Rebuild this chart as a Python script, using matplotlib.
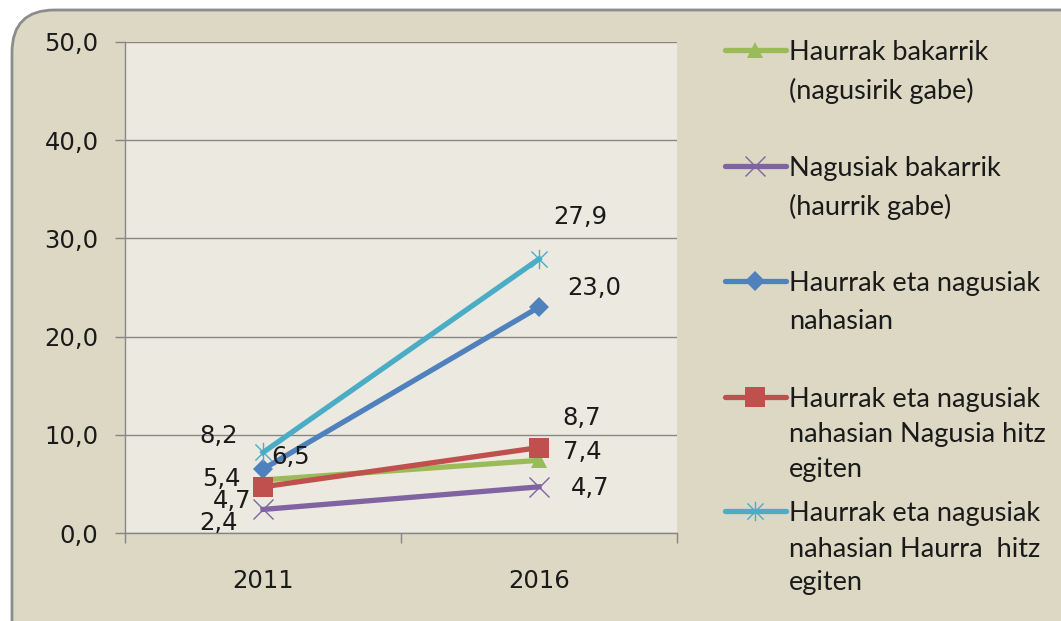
import matplotlib
matplotlib.use("Agg")
import matplotlib.pyplot as plt
from matplotlib.patches import FancyBboxPatch
from matplotlib.lines import Line2D
from matplotlib.path import Path

years = ["2011", "2016"]
series_names = [
    ["Haurrak bakarrik", "(nagusirik gabe)"],
    ["Nagusiak bakarrik", "(haurrik gabe)"],
    ["Haurrak eta nagusiak", "nahasian"],
    ["Haurrak eta nagusiak", "nahasian Nagusia hitz", "egiten"],
    ["Haurrak eta nagusiak", "nahasian Haurra  hitz", "egiten"],
]
haurrak_bakarrik = [5.4, 7.4]
nagusiak_bakarrik = [2.4, 4.7]
nahasian = [6.5, 23.0]
nahasian_nagusia = [4.7, 8.7]
nahasian_haurra = [8.2, 27.9]
yticks = [0, 10, 20, 30, 40, 50]

star = Path([(-1, -1), (1, 1), (-1, 1), (1, -1), (0, -1.2), (0, 1.2)],
            [Path.MOVETO, Path.LINETO, Path.MOVETO, Path.LINETO, Path.MOVETO, Path.LINETO])

W, H = 1061, 621
fig = plt.figure(figsize=(W / 100, H / 100), dpi=100)
fig.patch.set_facecolor("white")
box = FancyBboxPatch((12 / W, -0.1), 1.1, (H - 10) / H + 0.1,
                     boxstyle="round,pad=0,rounding_size=0.04",
                     transform=fig.transFigure, facecolor="#DDD8C4",
                     edgecolor="#8C8C8C", linewidth=2, mutation_aspect=W / H, zorder=-10)
fig.add_artist(box)

ax = fig.add_axes([125 / W, (H - 533) / H, (677 - 125) / W, (533 - 42) / H], zorder=1)
ax.set_facecolor("#ECEAE0")
ax.set_xlim(-0.5, 1.5)
ax.set_ylim(0, 50)

styles = [
    (haurrak_bakarrik, "#9BBB59", dict(marker="^", markersize=12, markeredgewidth=0)),
    (nagusiak_bakarrik, "#8064A2", dict(marker="x", markersize=14, markeredgewidth=1.0)),
    (nahasian, "#4F81BD", dict(marker="D", markersize=10.5, markeredgewidth=0)),
    (nahasian_nagusia, "#C0504D", dict(marker="s", markersize=14, markeredgewidth=0)),
    (nahasian_haurra, "#4BACC6", dict(marker=star, markersize=14, markeredgewidth=1.0)),
]
x = [0, 1]
order = [0, 1, 4, 2, 3]
for i in order:
    vals, col, mk = styles[i]
    ax.plot(x, vals, color=col, lw=3.8, markerfacecolor=col, markeredgecolor=col,
            zorder=3 + i, clip_on=False, **mk)

# data labels (offsets in points)
lab_font = dict(fontsize=17.5, color="#1a1a1a", family="DejaVu Sans", ha="center", va="center")
offsets = [
    [(-30, 1), (31, 6)],
    [(-32, -10), (37, -1)],
    [(20, 9), (40, 14)],
    [(-22, -10), (31, 21)],
    [(-32, 12), (30, 30)],
]
for i, (vals, col, mk) in enumerate(styles):
    for j in range(2):
        ax.annotate(f"{vals[j]:.1f}".replace(".", ","), (x[j], vals[j]),
                    xytext=offsets[i][j], textcoords="offset points", zorder=20, **lab_font)

ax.set_yticks(yticks)
ax.set_yticklabels([f"{v:.1f}".replace(".", ",") for v in yticks])
ax.yaxis.grid(True, color="#868686", lw=1)
ax.set_axisbelow(True)
ax.set_xticks([-0.5, 0.5, 1.5])
ax.set_xticklabels([])
ax.set_xticks([0, 1], minor=True)
ax.set_xticklabels(years, minor=True)
ax.tick_params(axis="x", which="major", length=7, color="#868686", width=1)
ax.tick_params(axis="x", which="minor", length=0, pad=26, labelsize=17.5, labelcolor="#1a1a1a")
ax.tick_params(axis="y", length=7, color="#868686", width=1, pad=12, labelsize=17.5,
               labelcolor="#1a1a1a")
for lab in ax.get_yticklabels() + ax.get_xticklabels(minor=True):
    lab.set_family("DejaVu Sans")
for s in ["top", "right"]:
    ax.spines[s].set_visible(False)
for s in ["left", "bottom"]:
    ax.spines[s].set_color("#868686")
    ax.spines[s].set_linewidth(1)

# legend drawn manually
leg_lines_y = [[50, 88], [166, 204], [281, 319], [397, 432, 467], [511, 547, 580]]
for i, (vals, col, mk) in enumerate(styles):
    yy = 1 - leg_lines_y[i][0] / H
    fig.add_artist(Line2D([725 / W, 786 / W], [yy, yy], transform=fig.transFigure,
                          color=col, lw=3.8, solid_capstyle="round"))
    fig.add_artist(Line2D([755 / W], [yy], transform=fig.transFigure, color=col,
                          markerfacecolor=col, markeredgecolor=col, **mk))
    for k, line in enumerate(series_names[i]):
        fig.text(789 / W, 1 - leg_lines_y[i][k] / H, line, fontsize=19.5, family="Lato",
                 color="#1a1a1a", va="center_baseline", ha="left")

fig.savefig("out.png", dpi=100, facecolor=fig.get_facecolor())
